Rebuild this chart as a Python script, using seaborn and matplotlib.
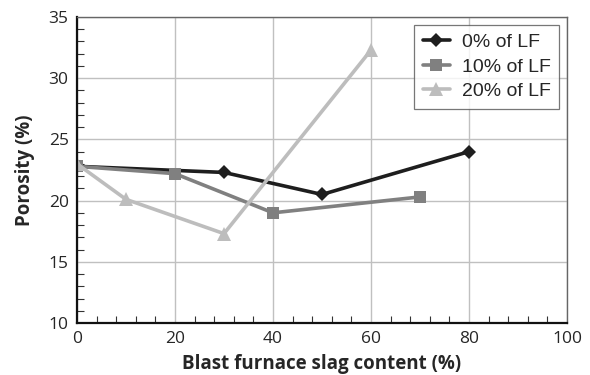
import numpy as np
import pandas as pd
import matplotlib
matplotlib.use("Agg")
import matplotlib.pyplot as plt
import seaborn as sns
from matplotlib.ticker import MultipleLocator

x0 = [0, 30, 50, 80]
y0 = [22.8, 22.3, 20.5, 24.0]
x10 = [0, 20, 40, 70]
y10 = [22.8, 22.2, 19.0, 20.3]
x20 = [0, 10, 30, 60]
y20 = [23.0, 20.1, 17.3, 32.3]
labels = ["0% of LF", "10% of LF", "20% of LF"]

df = pd.concat([
    pd.DataFrame({"x": x0, "y": y0, "s": labels[0]}),
    pd.DataFrame({"x": x10, "y": y10, "s": labels[1]}),
    pd.DataFrame({"x": x20, "y": y20, "s": labels[2]}),
])

sns.set_style("white")
fig = plt.figure(figsize=(5.9, 3.75), dpi=100)
ax = fig.add_axes([0.1305, 0.1387, 0.8305, 0.816])

palette = {labels[0]: "#1e1e1e", labels[1]: "#808080", labels[2]: "#bdbdbd"}
markers = {labels[0]: "D", labels[1]: "s", labels[2]: "^"}
sizes_m = {labels[0]: 7, labels[1]: 9, labels[2]: 10}
for lab in labels:
    sub = df[df.s == lab]
    sns.lineplot(data=sub, x="x", y="y", color=palette[lab], marker=markers[lab],
                 markersize=sizes_m[lab], markeredgewidth=0, linewidth=2.6,
                 label=lab, ax=ax, sort=False)

ax.set_xlim(0, 100)
ax.set_ylim(10, 35)
ax.xaxis.set_major_locator(MultipleLocator(20))
ax.xaxis.set_minor_locator(MultipleLocator(4))
ax.yaxis.set_major_locator(MultipleLocator(5))
ax.yaxis.set_minor_locator(MultipleLocator(1))
ax.grid(True, which="major", color="#c0c0c0", linewidth=1.0)
ax.set_axisbelow(True)
ax.tick_params(which="both", bottom=True, left=True, top=False, right=False)
ax.tick_params(which="minor", direction="in", length=5, width=0.8, color="#333333")
ax.tick_params(which="major", direction="in", length=0, labelsize=12.5, pad=6)
for lab in ax.get_xticklabels() + ax.get_yticklabels():
    lab.set_fontfamily("Open Sans")
for side in ["left", "bottom"]:
    ax.spines[side].set_color("#111111")
    ax.spines[side].set_linewidth(1.6)
for side in ["top", "right"]:
    ax.spines[side].set_color("#666666")
    ax.spines[side].set_linewidth(1.0)

ax.set_xlabel("Blast furnace slag content (%)", fontsize=13.5, fontweight="bold",
              fontfamily="Open Sans", labelpad=5)
ax.set_ylabel("Porosity (%)", fontsize=13.5, fontweight="bold",
              fontfamily="Open Sans", labelpad=10)

leg = ax.legend(loc="upper right", bbox_to_anchor=(0.984, 0.974), borderaxespad=0,
                frameon=True, fancybox=False, edgecolor="#555555",
                prop={"family": "Liberation Sans", "size": 14},
                handlelength=1.4, borderpad=0.45, labelspacing=0.35, handletextpad=0.6)
leg.get_frame().set_linewidth(0.9)

fig.savefig("out.png", dpi=100)
